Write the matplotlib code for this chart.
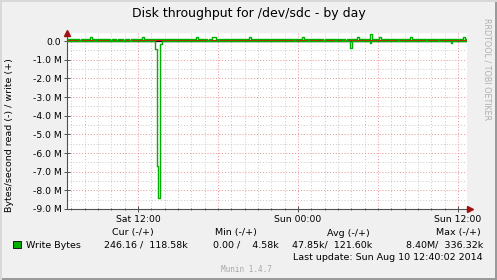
import matplotlib
matplotlib.use("Agg")
import matplotlib.pyplot as plt
from matplotlib.patches import Rectangle

# ---------------- data (hours since Sat 00:00, values in MBytes/s) ----------------
t_start, t_end = 6.67, 36.67

write_t = [6.67, 7.60, 7.72, 8.40, 8.55, 8.74, 8.84, 9.93, 10.03, 10.38, 10.48,
           10.90, 11.00, 11.35, 11.45, 12.30, 12.45, 16.35, 16.50, 17.20, 17.30,
           17.55, 17.85, 18.00, 18.10, 20.32, 20.47, 23.70, 23.80, 24.30, 24.45,
           24.75, 24.85, 25.90, 26.00, 26.75, 26.85, 27.30, 27.40, 27.55, 27.65,
           28.45, 28.58, 29.40, 29.52, 30.10, 30.22, 31.50, 31.60, 32.40, 32.52,
           33.60, 33.70, 34.50, 34.60, 36.40, 36.52]
write_v = [0.12, 0.03, 0.12, 0.20, 0.12, 0.03, 0.12, 0.03, 0.12, 0.03, 0.12,
           0.03, 0.12, 0.03, 0.12, 0.20, 0.12, 0.20, 0.12, 0.03, 0.12,
           0.20, 0.12, 0.03, 0.12, 0.22, 0.12, 0.03, 0.12, 0.20, 0.12,
           0.03, 0.12, 0.03, 0.12, 0.03, 0.12, 0.03, 0.12, 0.03, 0.12,
           0.22, 0.12, 0.37, 0.12, 0.20, 0.12, 0.03, 0.12, 0.24, 0.12,
           0.03, 0.12, 0.03, 0.12, 0.20, 0.12]

read_t = [6.67, 13.30, 13.45, 13.52, 13.635, 13.80, 27.92, 28.02, 29.38, 29.50, 35.47, 35.57]
read_v = [0.0, -0.43, -6.70, -8.40, -0.16, 0.0, -0.36, 0.0, -0.12, 0.0, -0.09, 0.0]

ytick_vals = [0, -1, -2, -3, -4, -5, -6, -7, -8, -9]
ytick_labels = ["0.0", "-1.0 M", "-2.0 M", "-3.0 M", "-4.0 M", "-5.0 M",
                "-6.0 M", "-7.0 M", "-8.0 M", "-9.0 M"]
xtick_vals = [12, 24, 36]
xtick_labels = ["Sat 12:00", "Sun 00:00", "Sun 12:00"]

title = "Disk throughput for /dev/sdc - by day"
ylabel = "Bytes/second read (-) / write (+)"
legend_name = "Write Bytes"
headers = ["Cur (-/+)", "Min (-/+)", "Avg (-/+)", "Max (-/+)"]
values = ["246.16 /  118.58k", "0.00 /    4.58k", "47.85k/  121.60k", "8.40M/  336.32k"]
last_update = "Last update: Sun Aug 10 12:40:02 2014"

# ---------------- figure ----------------
W, H = 497, 280
fig = plt.figure(figsize=(W / 100, H / 100), dpi=100)
fig.patch.set_facecolor("#f0f0f0")

def px(x, y):
    return x / W, 1 - y / H

L, R, T, B = 67, 467, 33, 209
ax = fig.add_axes([L / W, 1 - B / H, (R - L) / W, (B - T) / H])
ax.set_facecolor("white")
ymax = 0.43
ax.set_xlim(t_start, t_end)
ax.set_ylim(-9, ymax)

dot = (0, (1, 2))
# minor grid
for h in range(7, 37):
    if h % 6 != 0:
        ax.axvline(h, color="#c8c8c8", lw=0.7, ls=dot, zorder=1)
for k in range(0, 18):
    v = -0.5 - k
    if v > -9:
        ax.axhline(v, color="#c8c8c8", lw=0.7, ls=dot, zorder=1)
# major grid
for h in [12, 18, 24, 30, 36]:
    ax.axvline(h, color="#e89090", lw=0.7, ls=dot, zorder=1)
for v in ytick_vals[1:-1]:
    ax.axhline(v, color="#e89090", lw=0.7, ls=dot, zorder=1)

# zero lines
ax.axhline(0, color="black", lw=0.9, zorder=3)
ax.axhline(0.06, color="#ff0000", lw=0.8, zorder=3)

green = "#00b000"
ax.step(write_t + [t_end], write_v + [write_v[-1]], where="post", color=green, lw=1.0, zorder=4)
ax.step(read_t + [t_end], read_v + [read_v[-1]], where="post", color=green, lw=1.0, zorder=4)

for s in ["top", "right"]:
    ax.spines[s].set_visible(False)
for s in ["left", "bottom"]:
    ax.spines[s].set_color("#505050")
    ax.spines[s].set_linewidth(0.8)

ax.set_yticks(ytick_vals)
ax.set_yticklabels(ytick_labels)
ax.set_xticks(xtick_vals)
ax.set_xticklabels(xtick_labels)
ax.set_xticks(list(range(7, 37)), minor=True)
ax.tick_params(axis="both", which="major", direction="inout", length=4, width=0.7,
               color="#505050", labelsize=6.7, pad=2)
ax.tick_params(axis="x", which="minor", direction="inout", length=2, width=0.6, color="#505050")
ax.tick_params(axis="y", which="minor", left=False)

# arrows
ax.plot([t_start], [ymax], marker="^", color="#a01010", ms=4.5, clip_on=False, zorder=6)
ax.plot([t_end + 0.2], [-9], marker=">", color="#a01010", ms=4.5, clip_on=False, zorder=6)

# texts
fig.text(*px(248.5, 13), title, ha="center", va="center", fontsize=9.0, color="black")
fig.text(*px(10, 135), ylabel, ha="center", va="center", rotation=90, fontsize=6.8)
fig.text(*px(487, 18), "RRDTOOL / TOBI OETIKER", ha="center", va="top", rotation=270,
         fontsize=5.8, color="#b0b0b0")

fig.patches.append(Rectangle(px(13, 248), 8 / W, 7 / H, transform=fig.transFigure,
                             facecolor="#00b000", edgecolor="black", lw=0.6))
fig.text(*px(26, 245), legend_name, ha="left", va="center", fontsize=6.8)
hdr_x = [133, 236, 348, 458]
val_x = [188, 279, 372, 483]
for hx, hs in zip(hdr_x, headers):
    fig.text(*px(hx, 233), hs, ha="center", va="center", fontsize=6.8)
for vx, vs in zip(val_x, values):
    fig.text(*px(vx, 245), vs, ha="right", va="center", fontsize=6.8)
fig.text(*px(483, 258), last_update, ha="right", va="center", fontsize=6.8)
fig.text(*px(246, 269), "Munin 1.4.7", ha="center", va="center", fontsize=5.5,
         color="#a8a8a8", family="DejaVu Sans Mono")

# frame border
fig.patches.append(Rectangle((0, 0), 1, 2.5 / H, transform=fig.transFigure,
                             facecolor="#9a9a9a", edgecolor="none"))
fig.patches.append(Rectangle((1 - 2.5 / W, 0), 2.5 / W, 1, transform=fig.transFigure,
                             facecolor="#9a9a9a", edgecolor="none"))
fig.patches.append(Rectangle((0, 1 - 2 / H), 1, 2 / H, transform=fig.transFigure,
                             facecolor="#d8d8d8", edgecolor="none"))
fig.patches.append(Rectangle((0, 0), 2 / W, 1, transform=fig.transFigure,
                             facecolor="#d8d8d8", edgecolor="none"))

fig.savefig("out.png", dpi=100, facecolor=fig.get_facecolor())
